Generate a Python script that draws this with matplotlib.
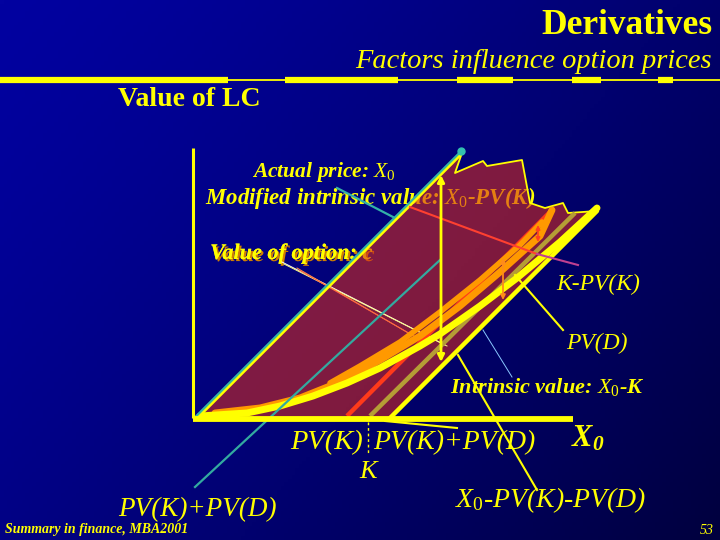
import numpy as np
import matplotlib
matplotlib.use("Agg")
import matplotlib.pyplot as plt
from matplotlib.patches import Polygon
import matplotlib.patheffects as pe

plt.rcParams.update({
    "font.family": ["Liberation Serif", "DejaVu Serif"],
    "mathtext.fontset": "custom",
    "mathtext.rm": "Liberation Serif",
    "mathtext.it": "Liberation Serif:italic",
    "mathtext.bf": "Liberation Serif:bold:italic",
})

# ---------------- data (chart units: x = stock price, y = value of call) ----------------
axis_x_end = 376
axis_y_top = 270
upper_bound_x = [0, 266]            # actual price line: value = X0
upper_bound_y = [0, 266]
lower_bound_x = [193, 400]          # X0 - PV(K) - PV(D)
lower_bound_y = [0, 207]
region_x = [0, 266, 258, 286, 290, 325, 333, 348, 366, 371, 400, 193]
region_y = [0, 268, 245, 257, 252, 258, 215, 210, 215, 205, 207, 0]

option_x = [3, 50, 83, 116, 150, 183, 223, 243, 283, 320, 363, 400]
option_y = [2, 5, 12, 22, 35, 50, 72, 84, 112, 140, 176, 210]
orange_a_x = [18, 63, 103, 143, 183, 223, 263, 303, 343, 355]
orange_a_y = [5, 10, 20, 36, 58, 82, 112, 146, 182, 208]
orange_b_x = [133, 163, 203, 243, 283, 323, 345]
orange_b_y = [35, 52, 76, 106, 138, 173, 196]

red_x, red_y = [150, 355], [2, 208]
olive_x, olive_y = [173, 378], [2, 205]
teal_x, teal_y = [-2, 243], [-69, 158]

k_pos = 171
arrow_x, arrow_y = 244, [243, 56]
small_arrow_x, small_arrow_y = 306, [160, 118]
red_arrow_x, red_arrow_y = 341, [193, 176]

# separator segments on header line (pixel x)
sep_thick = [(0, 228), (285, 398), (457, 513), (572, 601), (658, 673)]

# ---------------- figure ----------------
W, H = 720, 540
ox, oy = 197, 418
fig = plt.figure(figsize=(7.2, 5.4), dpi=100)
ax = fig.add_axes([0, 0, 1, 1])
ax.set_xlim(-ox, W - ox)
ax.set_ylim(oy - H, oy)
ax.axis("off")

# background gradient
gx = np.linspace(0, 1, 200)
gy = np.linspace(0, 1, 150)
GX, GY = np.meshgrid(gx, gy)
t = np.clip(0.62 * GX + 0.38 * GY, 0, 1) ** 1.3
c0 = np.array([2, 2, 160]) / 255
c1 = np.array([0, 0, 62]) / 255
img = c0[None, None, :] * (1 - t[..., None]) + c1[None, None, :] * t[..., None]
ax.imshow(img, extent=(-ox, W - ox, oy - H, oy), origin="upper", aspect="auto", zorder=0)

FT = fig.transFigure
YEL = "#ffff00"


def P(x, y):
    return (x / W, 1 - y / H)


def txt(x, y, s, size, ha="left", style="italic", weight="normal", z=10, **kw):
    ax.text(*P(x, y), s, transform=FT, ha=ha, va="center", fontsize=size,
            style=style, weight=weight, color=YEL, zorder=z, **kw)


# header
txt(712, 26, "Derivatives", 25.5, ha="right", style="normal", weight="bold")
txt(712, 61, "Factors influence option prices", 20.5, ha="right")
ax.plot([0, 1], [1 - 80 / H] * 2, transform=FT, color=YEL, lw=1.3, zorder=5)
for a, b in sep_thick:
    ax.plot([a / W, b / W], [1 - 80 / H] * 2, transform=FT, color=YEL, lw=4.5,
            solid_capstyle="butt", zorder=5)
txt(118, 100, "Value of LC", 20, style="normal", weight="bold")

# texts that sit under the translucent region
txt(324, 172, r"Actual price: $X_\mathit{0}$", 15.5, ha="center", weight="bold", z=1)
txt(205, 198, r"Modified intrinsic value: $X_\mathit{0}$-PV(K)", 16.5, weight="bold", z=1)
txt(210, 254, "Value of option: c", 16, weight="bold", z=1,
    path_effects=[pe.withSimplePatchShadow(offset=(1.5, -1.5), shadow_rgbFace="#d08000", alpha=1),
                  pe.Normal()])

# translucent region
ax.add_patch(Polygon(np.column_stack([region_x, region_y]), closed=True,
                     facecolor=(0.83, 0.17, 0.12), alpha=0.6, edgecolor="none", zorder=2))
ax.plot(region_x[1:11], region_y[1:11], color=YEL, lw=1.3, zorder=3)

# axes
ax.plot([-4, -4], [0, axis_y_top], color=YEL, lw=2.2, zorder=6, solid_capstyle="butt")
ax.plot([-4, axis_x_end], [-1, -1], color=YEL, lw=4.2, zorder=6, solid_capstyle="butt")

# thin pointer lines from "Value of option"
ax.plot([85, 248], [156, 73], color="white", lw=0.7, zorder=3)
ax.plot([87, 250], [154, 72], color="#ffff80", lw=0.7, zorder=3)
ax.plot([100, 220], [150, 80], color="#ff9040", lw=0.7, zorder=3)
ax.plot([102, 222], [148, 79], color="#ff6040", lw=0.7, zorder=3)

# diagonals
ax.plot(red_x, red_y, color="#ff3a1a", lw=3.2, zorder=4, solid_capstyle="butt")
ax.plot(olive_x, olive_y, color="#b59d35", lw=3.2, zorder=4, solid_capstyle="butt")
ax.plot(orange_b_x, orange_b_y, color="#ff9900", lw=4, zorder=4, solid_capstyle="round")
ax.plot(orange_a_x, orange_a_y, color="#ff9900", lw=5, zorder=4, solid_capstyle="round")
ax.plot(option_x, option_y, color=YEL, lw=5, zorder=5, solid_capstyle="round")
ax.plot(lower_bound_x, lower_bound_y, color=YEL, lw=3.2, zorder=5, solid_capstyle="round")
ax.plot(upper_bound_x, upper_bound_y, color=YEL, lw=2.4, zorder=5)
ax.plot([u - 2.2 for u in upper_bound_x], [v + 0.5 for v in upper_bound_y], color="#33b5a5",
        lw=1.6, zorder=5, solid_capstyle="round")
ax.plot([upper_bound_x[1] - 2], [upper_bound_y[1] + 1], "o", ms=5, color="#33c0b0", zorder=5)
ax.plot(teal_x, teal_y, color="#33aaa0", lw=1.6, zorder=5)

# pointers
ax.plot([140, 196], [230, 201], color="#33b0a8", lw=1.6, zorder=5)
ax.plot([213, 340], [211, 164], color="#ff4030", lw=1.5, zorder=5)
ax.plot([340, 381], [164, 153], color="#c04090", lw=1.5, zorder=5)
ax.plot([318, 366], [143, 88], color=YEL, lw=1.5, zorder=5)
ax.plot([286, 315], [88, 41], color="#8ac8ff", lw=0.7, zorder=5)
ax.plot([261, 340], [63, -72], color=YEL, lw=1.5, zorder=5)
ax.plot([188, 260], [-3, -10], color=YEL, lw=1.5, zorder=5)
ax.plot([k_pos, k_pos], [-4, -37], color=YEL, lw=1, ls=(0, (2, 2)), zorder=5)

# arrows
ax.annotate("", xy=(arrow_x, arrow_y[0]), xytext=(arrow_x, arrow_y[1]),
            arrowprops=dict(arrowstyle="<|-|>", color=YEL, lw=2, mutation_scale=10,
                            shrinkA=0, shrinkB=0), zorder=6)
ax.annotate("", xy=(small_arrow_x, small_arrow_y[0]), xytext=(small_arrow_x, small_arrow_y[1]),
            arrowprops=dict(arrowstyle="<|-|>", color="#ff8c1a", lw=1.3, mutation_scale=7,
                            shrinkA=0, shrinkB=0), zorder=6)
ax.annotate("", xy=(red_arrow_x, red_arrow_y[0]), xytext=(red_arrow_x, red_arrow_y[1]),
            arrowprops=dict(arrowstyle="<|-|>", color="#ff4020", lw=1.2, mutation_scale=6,
                            shrinkA=0, shrinkB=0), zorder=6)

# labels
txt(556, 284, "K-PV(K)", 17)
txt(566, 343, "PV(D)", 17)
txt(450, 387, r"Intrinsic value: $X_\mathit{0}$-K", 16, weight="bold")
txt(290, 443, "PV(K)", 20.5)
txt(373, 443, "PV(K)+PV(D)", 20)
txt(571, 439, r"$\mathbf{X_0}$", 22, weight="bold")
txt(368, 472, "K", 19, ha="center")
txt(118, 510, "PV(K)+PV(D)", 19.5)
txt(455, 500, r"$X_\mathit{0}$-PV(K)-PV(D)", 20)
txt(5, 530, "Summary in finance, MBA2001", 10, weight="bold")
txt(714, 531, "53", 10, ha="right")

fig.savefig("out.png", dpi=100)
